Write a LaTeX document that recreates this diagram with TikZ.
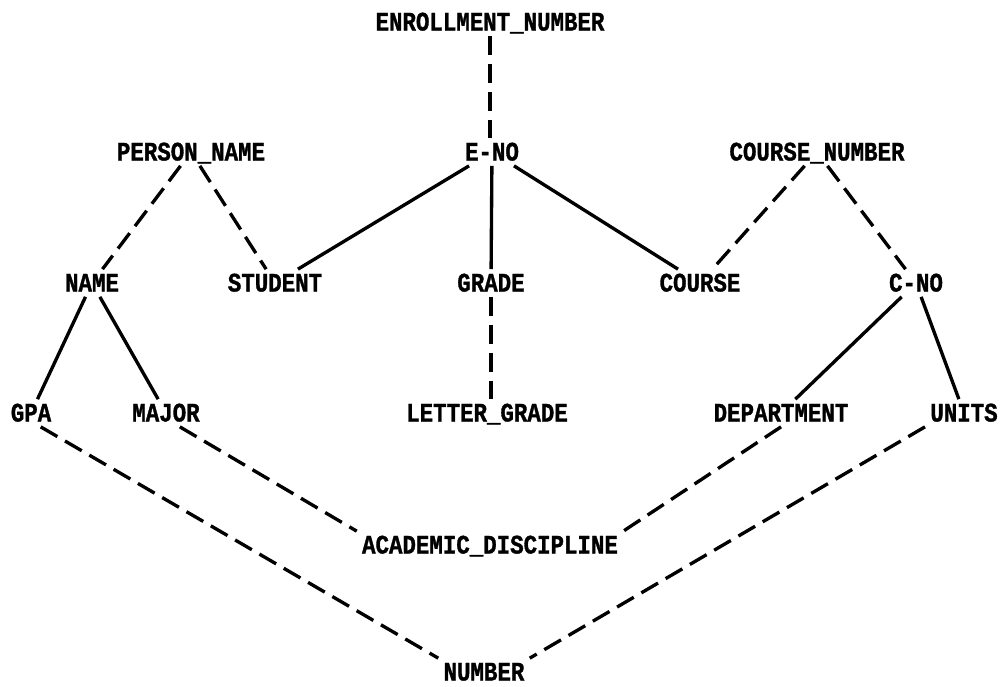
\documentclass[tikz,border=0pt]{standalone}
\usepackage{fontspec}
\newfontfamily\attrfont{Liberation Mono}[FakeStretch=0.84,FakeBold=1.2]
\usetikzlibrary{positioning}

\begin{document}
\begin{tikzpicture}[x=0.2mm, y=-0.2mm,
    attr/.style={font=\attrfont\bfseries\fontsize{15.2pt}{18pt}\selectfont,
        inner sep=1mm, text height=3.4mm, text depth=0pt},
    solidlink/.style={line width=1.9pt},
    dashlink/.style={line width=1.9pt, dash pattern=on 11pt off 5pt}]
    \useasboundingbox (0,0) rectangle (1001,686);
    % attributes, top row to bottom row
    \node[attr] (enrollnum) at (490,22) {ENROLLMENT\_NUMBER};
    \node[attr] (personname) at (191,152) {PERSON\_NAME};
    \node[attr] (eno) at (492,152) {E-NO};
    \node[attr] (coursenum) at (817,152) {COURSE\_NUMBER};
    \node[attr] (name) at (92,283) {NAME};
    \node[attr] (student) at (275,283) {STUDENT};
    \node[attr] (grade) at (491,283) {GRADE};
    \node[attr] (course) at (700,283) {COURSE};
    \node[attr] (cno) at (916,283) {C-NO};
    \node[attr] (gpa) at (31,413) {GPA};
    \node[attr] (major) at (166,413) {MAJOR};
    \node[attr] (lettergrade) at (487,413) {LETTER\_GRADE};
    \node[attr] (department) at (781,413) {DEPARTMENT};
    \node[attr] (units) at (964,413) {UNITS};
    \node[attr] (academic) at (490,545) {ACADEMIC\_DISCIPLINE};
    \node[attr] (number) at (484,672) {NUMBER};
    % solid links
    \draw[solidlink] (eno) -- (student);
    \draw[solidlink] (eno) -- (grade);
    \draw[solidlink] (eno) -- (course);
    \draw[solidlink] (name) -- (gpa);
    \draw[solidlink] (name) -- (major);
    \draw[solidlink] (cno) -- (department);
    \draw[solidlink] (cno) -- (units);
    % dashed links
    \draw[dashlink] (enrollnum) -- (eno.north -| enrollnum);
    \draw[dashlink] (personname) -- (name);
    \draw[dashlink] (personname) -- (student);
    \draw[dashlink] (coursenum) -- (course);
    \draw[dashlink] (coursenum) -- (cno);
    \draw[dashlink] (grade) -- (lettergrade.north -| grade);
    \draw[dashlink] (major.-45) -- (academic.north west);
    \draw[dashlink] (department.south) -- (academic.north east);
    \draw[dashlink] (gpa.-55) -- (number.north west);
    \draw[dashlink] (units.south west) -- (number.north east);
\end{tikzpicture}
\end{document}
